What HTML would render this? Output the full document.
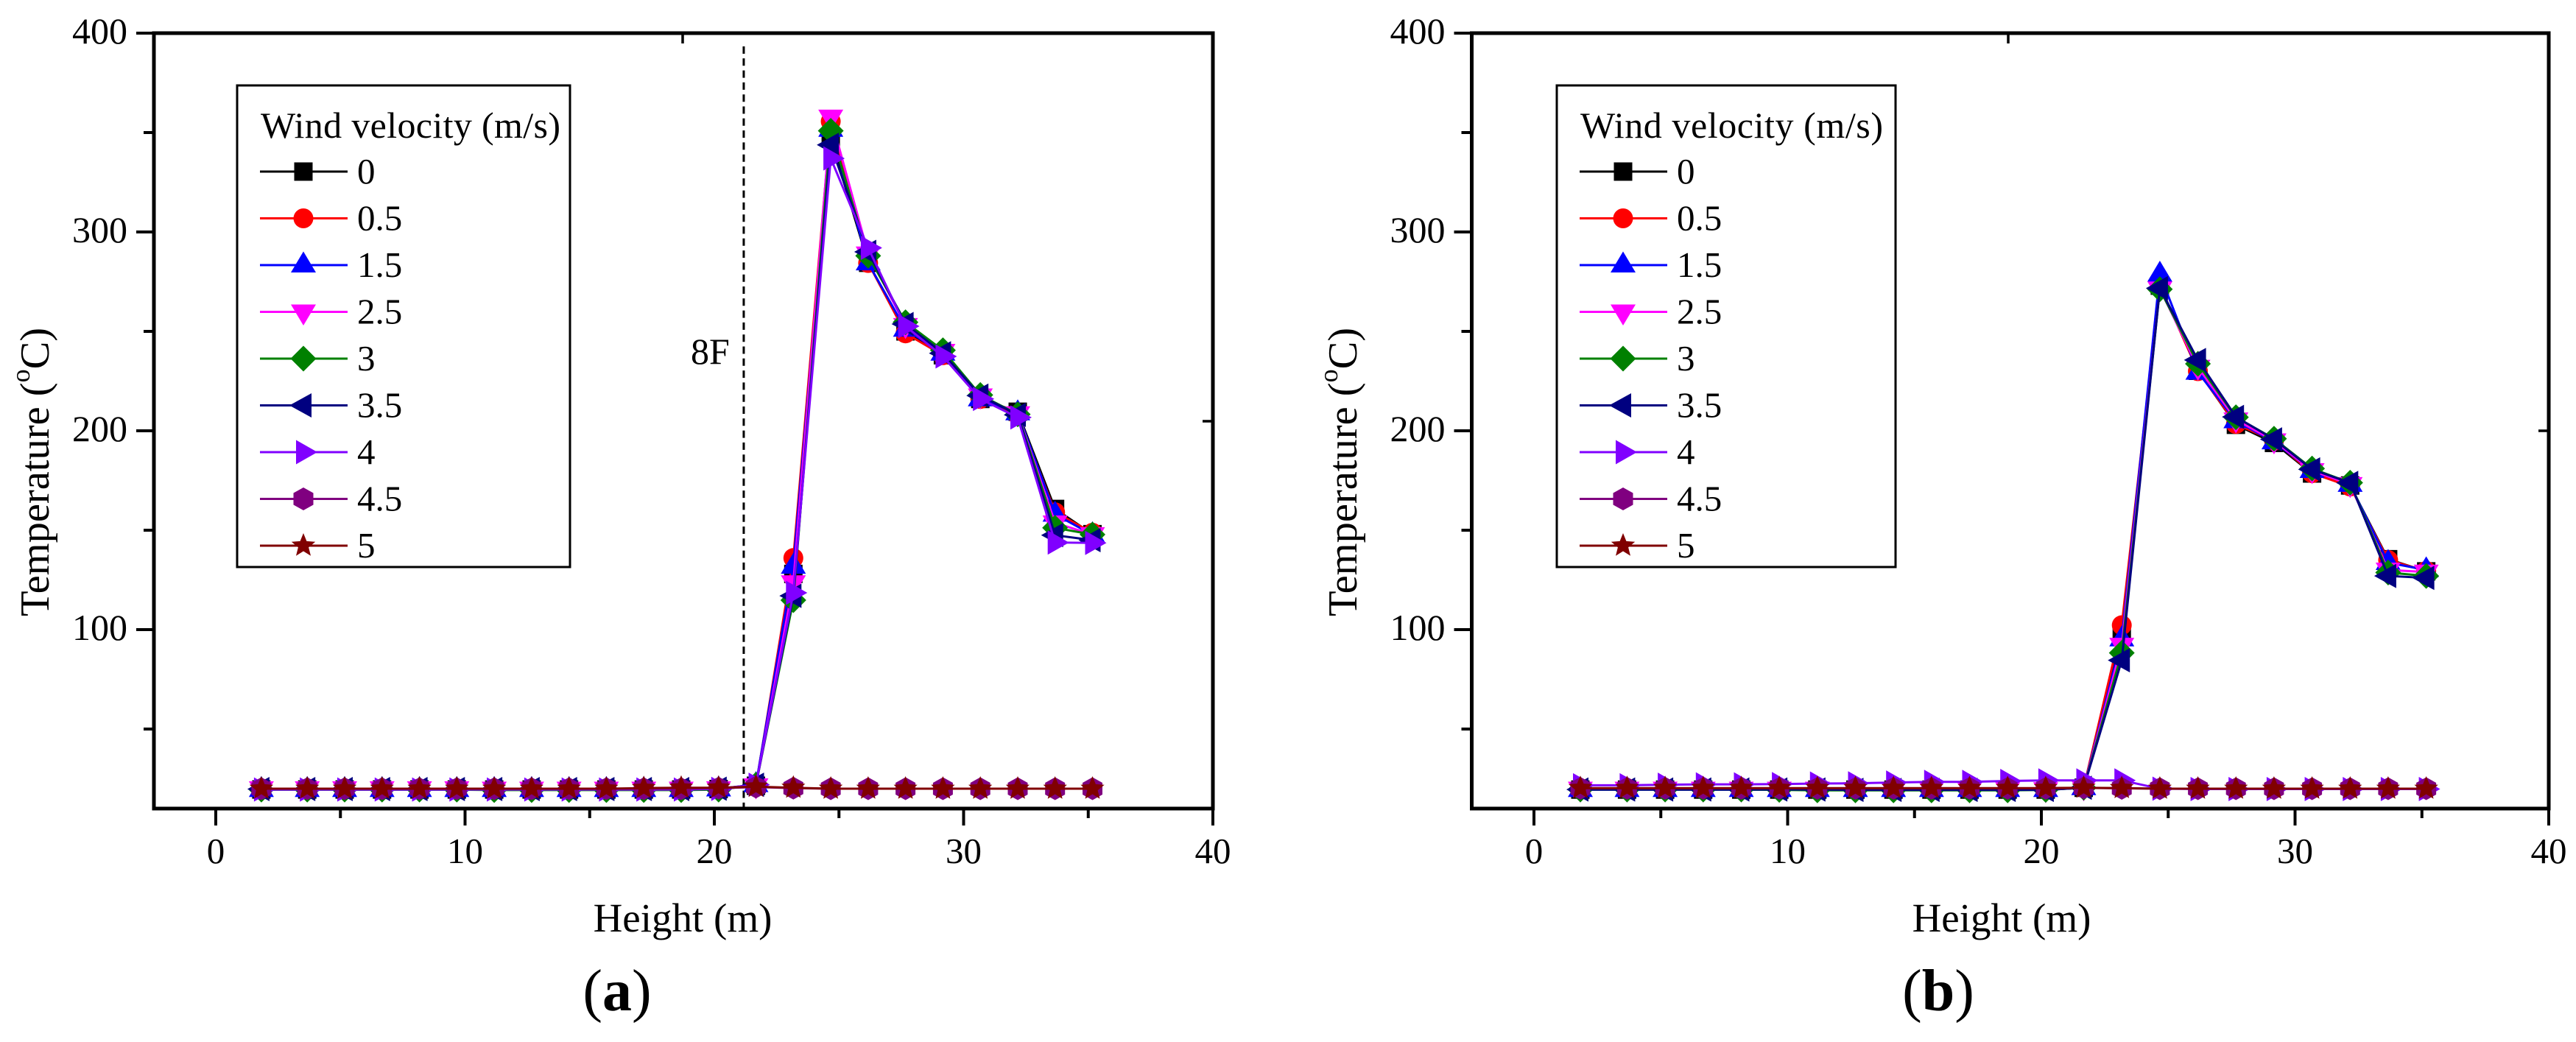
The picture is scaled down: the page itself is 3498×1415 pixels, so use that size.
<!DOCTYPE html>
<html lang="en">
<head>
<meta charset="utf-8">
<title>Temperature vs height at different wind velocities</title>
<style>
html,body{margin:0;padding:0;background:#fff;width:3498px;height:1415px;overflow:hidden}
svg{display:block}
text{font-family:"Liberation Serif",serif;fill:#000}
</style>
</head>
<body>
<svg id="figure" xmlns="http://www.w3.org/2000/svg" width="3498" height="1415" viewBox="0 0 3498 1415"></svg>
<script>
// Shared categories
const heights = [1.83,3.67,5.17,6.67,8.17,9.67,11.17,12.67,14.17,15.67,17.17,18.67,20.17,21.67,23.17,24.67,26.17,27.67,29.17,30.67,32.17,33.67,35.17];
const velocityLabels = ['0','0.5','1.5','2.5','3','3.5','4','4.5','5'];
const xTickValues = [0,5,10,15,20,25,30,35,40];
const xTickLabels = ['0','','10','','20','','30','','40'];
const yTickValues = [50,100,150,200,250,300,350,400];
const yTickLabels = ['','100','','200','','300','','400'];

// Panel (a) series, temperature in deg C
const a0  = [19.6,19.6,19.6,19.6,19.6,19.6,19.6,19.6,19.6,19.6,19.6,19.6,19.8,21.5,128,347,284.5,250,238,216,209.6,160.7,148];
const a05 = [19.8,19.8,19.8,19.8,19.8,19.8,19.8,19.8,19.8,19.8,19.8,19.8,20,21.5,136,355.6,284.4,249,238,216,208,159,148.7];
const a15 = [19.5,19.5,19.5,19.5,19.5,19.5,19.5,19.5,19.5,19.5,19.5,19.5,19.8,22,131.8,351.6,284.4,251,239,216,209,158,147.7];
const a25 = [20,20,20,20,20,20,19.8,19.8,19.8,19.8,19.8,19.8,20,21.5,123.6,357.8,289,253,240,217.6,208.6,153.7,147.8];
const a3  = [19.5,19.5,19.5,19.5,19.5,19.5,19.3,19.3,19.3,19.3,19.3,19.3,19.5,22,114.8,350.9,288,254.6,240.5,218,208.3,151.2,147.8];
const a35 = [19.8,19.8,19.8,19.8,19.8,19.8,19.8,19.8,19.8,19.8,19.8,19.8,20,22,117,343.8,290,253.7,239,217.7,208,147.5,145];
const a4  = [19.6,19.6,19.6,19.6,19.6,19.6,19.6,19.6,19.6,19.6,19.6,19.6,19.9,22,118.5,337,292,252.6,237.4,216,206.7,143.8,143.6];
const a45 = [20,20,20,20,20,20,20,20,20,20,20,20,20.3,20.8,20.3,20,20,20,20,20,20,20,20];
const a5  = [20,20,20,20,20,20,20,20,20,20,20.3,20.5,20.5,21,20.5,20,20,20,20,20,20,20,20];

// Panel (b) series, temperature in deg C
const b0  = [19.5,19.5,19.5,19.5,19.5,19.5,19.5,19.5,19.5,19.5,19.5,19.5,19.5,20.5,97,273,230.2,203,193.9,178.5,172.5,135.4,129.3];
const b05 = [19.8,19.8,19.8,19.8,19.8,19.8,19.8,19.8,19.8,19.8,19.8,19.8,19.8,20.5,102.2,273,230,203.4,195,178.7,172,135,129.5];
const b15 = [19.5,19.5,19.5,19.5,19.5,19.5,19.5,19.5,19.5,19.5,19.5,19.5,19.5,20.5,95.3,278.7,229.4,205,194.4,180,173,133.7,130];
const b25 = [19.8,19.8,19.8,19.8,19.8,19.8,19.8,19.5,19.5,19.5,19.5,19.5,19.5,20.5,92.2,271.4,232,205.5,195,180,173,130,129];
const b3  = [19.6,19.6,19.6,19.6,19.6,19.4,19.2,19.2,19.2,19.2,19.2,19.2,19.4,20.5,88.3,271.2,233.7,206.8,196,181,173.9,128.7,127];
const b35 = [19.6,19.6,19.6,19.6,19.6,19.6,19.6,19.4,19.4,19.4,19.4,19.4,19.4,20.5,84.6,271.7,235.6,207,195.7,180.6,173.8,127,126];
const b4  = [21.7,21.7,22,22.2,22.2,22.3,22.6,22.7,23.1,23.4,23.4,23.9,24.2,24.2,24.2,20,19.8,19.8,19.8,19.8,19.8,19.8,19.8];
const b45 = [20.2,20.2,20.2,20.2,20.2,20.2,20.2,20.2,20.2,20.2,20.2,20.2,20.2,20.4,20.2,20,20,20,20,20,20,20,20];
const b5  = [20.3,20.3,20.3,20.3,20.3,20.3,20.3,20.3,20.3,20.3,20.3,20.3,20.3,20.5,20.3,20,20,20,20,20,20,20,20];

const seriesA = [a0,a05,a15,a25,a3,a35,a4,a45,a5];
const seriesB = [b0,b05,b15,b25,b3,b35,b4,b45,b5];

const colors = ['#000000','#ff0000','#0000ff','#ff00ff','#008000','#000080','#8000ff','#800080','#800000'];
const shapes = ['square','circle','up','down','diamond','left','right','hexagon','star'];

const SVGNS = 'http://www.w3.org/2000/svg';
const root = document.getElementById('figure');

function el(tag, attrs, parent){
  const e = document.createElementNS(SVGNS, tag);
  for (const k in attrs) e.setAttribute(k, attrs[k]);
  parent.appendChild(e);
  return e;
}

function markerPoints(shape, cx, cy){
  let p = [];
  if (shape === 'square') p = [[-12.5,-12.5],[12.5,-12.5],[12.5,12.5],[-12.5,12.5]];
  if (shape === 'up') p = [[0,-18.5],[17,10],[-17,10]];
  if (shape === 'down') p = [[0,18.5],[17,-10],[-17,-10]];
  if (shape === 'diamond') p = [[0,-17.5],[17.5,0],[0,17.5],[-17.5,0]];
  if (shape === 'left') p = [[-19,0],[11,-16.5],[11,16.5]];
  if (shape === 'right') p = [[19,0],[-10,-16.5],[-10,16.5]];
  if (shape === 'hexagon') p = [[0,-15.5],[13.5,-8],[13.5,8],[0,15.5],[-13.5,8],[-13.5,-8]];
  if (shape === 'star') {
    for (let i = 0; i < 10; i++) {
      const r = i % 2 === 0 ? 17 : 7.5;
      const t = -Math.PI / 2 + i * Math.PI / 5;
      p.push([r * Math.cos(t), r * Math.sin(t)]);
    }
  }
  return p.map(q => (cx + q[0]).toFixed(1) + ',' + (cy + q[1]).toFixed(1)).join(' ');
}

function drawMarker(parent, shape, color, cx, cy){
  if (shape === 'circle') return el('circle', {cx: cx, cy: cy, r: 13.5, fill: color}, parent);
  return el('polygon', {points: markerPoints(shape, cx, cy), fill: color}, parent);
}

function drawPanel(cfg){
  const g = el('g', {}, root);
  
  

  const xScale = v => cfg.x0 + v * cfg.xUnit;
  const yScale = v => 585 - (v - 200) * 2.7;
  const bottom = yScale(10);
  const top = yScale(400);

  // dashed floor marker
  if (cfg.floorX !== null) {
    const dash = el('line', {x1: xScale(cfg.floorX), x2: xScale(cfg.floorX), y1: 63, y2: bottom, stroke: '#000', 'stroke-width': 3, 'stroke-dasharray': '10 6.3'}, g);
    
    
    const fl = el('text', {x: 938, y: 494, 'font-size': 50}, g);
    fl.textContent = '8F';
    
    
  }

  // series
  cfg.series.forEach((vals, s) => {
    const sg = el('g', {}, g);
    
    
    const pts = vals.map((v, i) => xScale(heights[i]).toFixed(1) + ',' + yScale(v).toFixed(1)).join(' ');
    const line = el('polyline', {points: pts, fill: 'none', stroke: colors[s], 'stroke-width': 3}, sg);
    
    
    vals.forEach((v, i) => {
      const m = drawMarker(sg, shapes[s], colors[s], xScale(heights[i]), yScale(v));
      
      
    });
  });

  // frame
  const frame = el('rect', {x: cfg.left, y: top, width: xScale(40) - cfg.left, height: bottom - top, fill: 'none', stroke: '#000', 'stroke-width': 5}, g);
  
  

  // x ticks
  xTickValues.forEach((v, i) => {
    const major = xTickLabels[i] !== '';
    const t = el('line', {x1: xScale(v), x2: xScale(v), y1: bottom, y2: bottom + (major ? 23 : 13), stroke: '#000', 'stroke-width': 4}, g);
    
    
    if (major) {
      const lb = el('text', {x: xScale(v), y: 1172, 'font-size': 49, 'text-anchor': 'middle'}, g);
      lb.textContent = xTickLabels[i];
      
      
    }
  });

  // y ticks
  yTickValues.forEach((v, i) => {
    const major = yTickLabels[i] !== '';
    const t = el('line', {x1: cfg.left - (major ? 24 : 14), x2: cfg.left, y1: yScale(v), y2: yScale(v), stroke: '#000', 'stroke-width': 4}, g);
    
    
    if (major) {
      const lb = el('text', {x: cfg.left - 36, y: yScale(v) + 14, 'font-size': 50, 'text-anchor': 'end'}, g);
      lb.textContent = yTickLabels[i];
      
      
    }
  });

  // stray mirror ticks on top and right
  const tt = el('line', {x1: cfg.topTickX, x2: cfg.topTickX, y1: top, y2: top + 14, stroke: '#000', 'stroke-width': 3.5}, g);
  
  
  const rt = el('line', {x1: xScale(40) - 14, x2: xScale(40), y1: cfg.rightTickY, y2: cfg.rightTickY, stroke: '#000', 'stroke-width': 3.5}, g);
  
  

  // axis titles
  const xt = el('text', {x: cfg.xTitleX, y: 1265, 'font-size': 55, 'text-anchor': 'middle'}, g);
  xt.textContent = 'Height (m)';
  
  

  const yt = el('text', {x: 0, y: 0, 'font-size': 56.5, transform: 'translate(' + cfg.yTitleX + ',837) rotate(-90)'}, g);
  
  
  yt.appendChild(document.createTextNode('Temperature ('));
  const sup = el('tspan', {'font-size': 36, dy: -26}, yt);
  sup.textContent = 'o';
  const cPart = el('tspan', {dy: 26}, yt);
  cPart.textContent = 'C)';

  // panel label
  const pl = el('text', {x: cfg.panelX, y: 1372, 'font-size': 80, 'text-anchor': 'middle'}, g);
  
  
  pl.appendChild(document.createTextNode('('));
  const pb = el('tspan', {'font-weight': 'bold'}, pl);
  pb.textContent = cfg.panelLetter;
  pl.appendChild(document.createTextNode(')'));

  // legend
  const lg = el('g', {}, g);
  
  
  const box = el('rect', {x: cfg.legendX, y: 116, width: cfg.legendW, height: 654, fill: '#fff', stroke: '#000', 'stroke-width': 3}, lg);
  
  
  const lt = el('text', {x: cfg.legendX + 32, y: 187, 'font-size': 50, textLength: cfg.legendTitleW, lengthAdjust: 'spacing'}, lg);
  lt.textContent = 'Wind velocity (m/s)';
  
  
  velocityLabels.forEach((label, s) => {
    const ly = 233 + s * 63.5;
    const entry = el('g', {}, lg);
    
    
    const sw = el('line', {x1: cfg.legendX + 31, x2: cfg.legendX + 150, y1: ly, y2: ly, stroke: colors[s], 'stroke-width': 3}, entry);
    
    
    const mk = drawMarker(entry, shapes[s], colors[s], cfg.legendX + 90, ly);
    
    
    const tx = el('text', {x: cfg.legendX + 163, y: ly + 16, 'font-size': 49}, entry);
    tx.textContent = label;
    
    
  });
}

drawPanel({name:'panel-a', series:seriesA, x0:293, xUnit:33.85, left:209, floorX:21.18, topTickX:927, rightTickY:572,
  xTitleX:927, yTitleX:66, panelX:838, panelLetter:'a', legendX:322, legendW:452, legendTitleW:407});
drawPanel({name:'panel-b', series:seriesB, x0:2083, xUnit:34.45, left:1998.5, floorX:null, topTickX:2727, rightTickY:585,
  xTitleX:2718, yTitleX:1842, panelX:2632, panelLetter:'b', legendX:2114, legendW:460, legendTitleW:411});
</script>
</body>
</html>
